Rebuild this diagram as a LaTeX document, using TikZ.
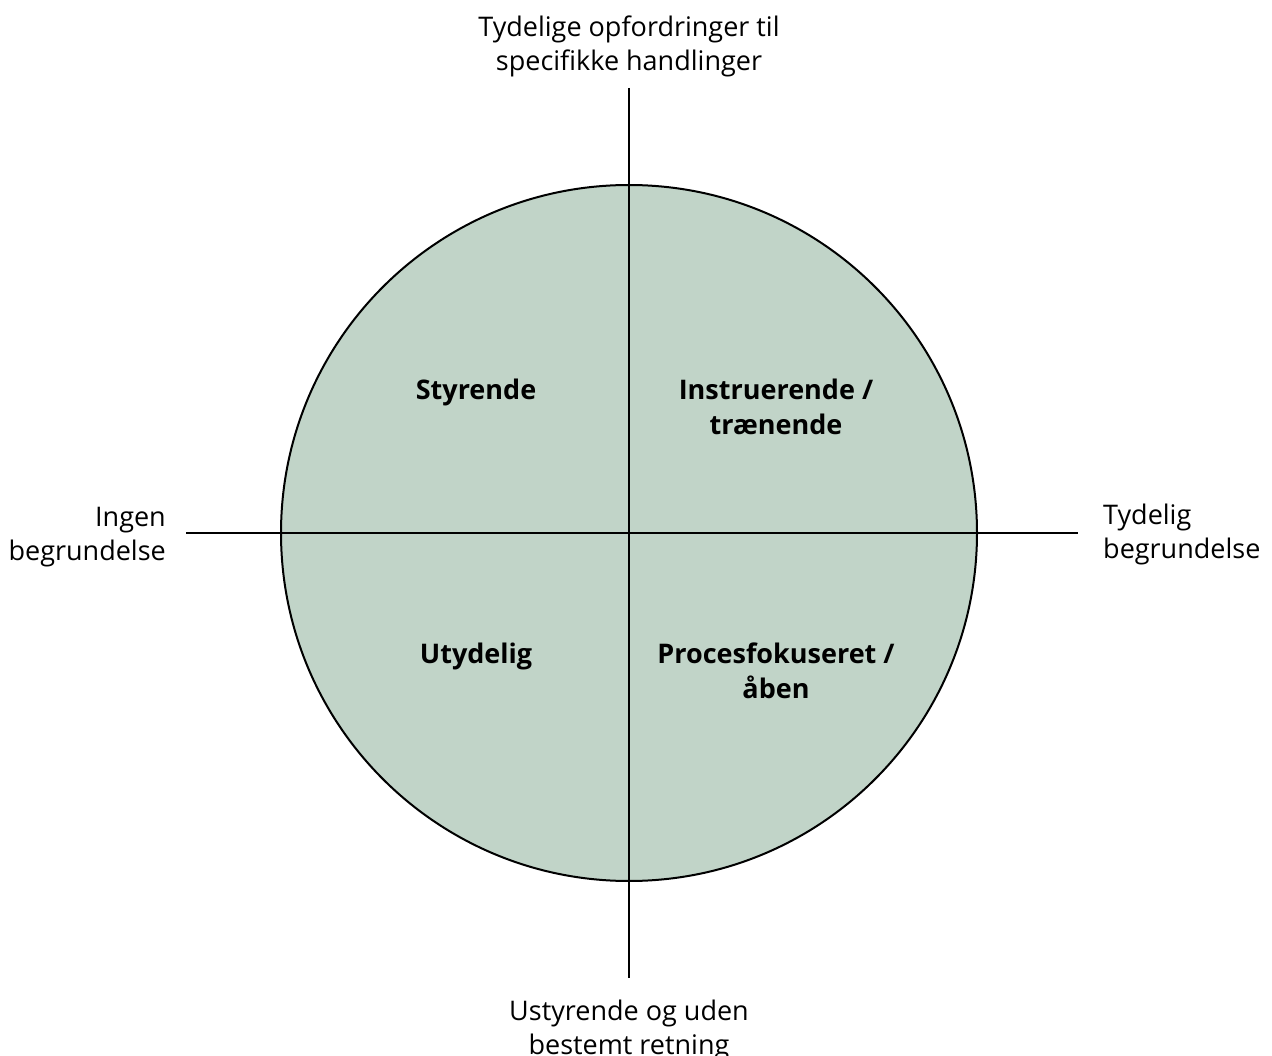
\documentclass[tikz,border=0pt]{standalone}
\usepackage{fontspec}
\setmainfont{Open Sans}
\definecolor{quadfill}{HTML}{C1D4C8}
\begin{document}
\begin{tikzpicture}[x=1pt,y=-1pt,
  axis/.style={line width=2pt,black},
  axislabel/.style={inner sep=0pt,font=\fontsize{27}{34}\selectfont},
  quadlabel/.style={inner sep=0pt,align=center,font=\fontsize{27}{35}\selectfont\bfseries}]
  \useasboundingbox[fill=white] (0,0) rectangle (1272,1056);
  % the disc
  \coordinate (c) at (629,533);
  \draw[line width=2pt,fill=quadfill] (c) circle[radius=348];
  % axes
  \coordinate (top) at (629,88);
  \coordinate (bot) at (629,978);
  \coordinate (lft) at (186,533);
  \coordinate (rgt) at (1078,533);
  \draw[axis] (top) -- (bot);
  \draw[axis] (lft) -- (rgt);
  % axis ends (base anchor sits on the last line)
  \node[axislabel,align=center,anchor=base] (ttop) at (629,71) {Tydelige opfordringer til\\specifikke handlinger};
  \node[axislabel,align=center,anchor=base] (tbot) at (629,1054) {Ustyrende og uden\\bestemt retning};
  \node[axislabel,align=right,anchor=base east] (tlft) at (166,560) {Ingen\\begrundelse};
  \node[axislabel,align=left,anchor=base west] (trgt) at (1103,558) {Tydelig\\begrundelse};
  % quadrants
  \node[quadlabel,anchor=base] (q1) at (476,400) {Styrende};
  \node[quadlabel,anchor=base] (q2) at (776,435) {Instruerende /\\trænende};
  \node[quadlabel,anchor=base] (q3) at (476,663) {Utydelig};
  \node[quadlabel,anchor=base] (q4) at (776,698) {Procesfokuseret /\\åben};
\end{tikzpicture}
\end{document}
